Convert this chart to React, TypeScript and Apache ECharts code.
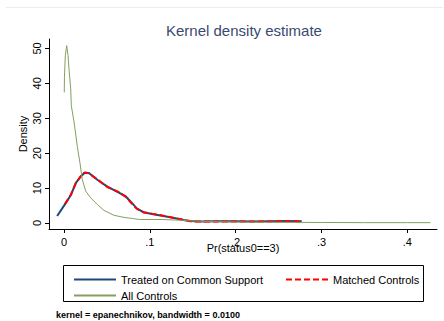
import React, { useEffect, useRef } from "react";
import * as echarts from "echarts";

const titleText = "Kernel density estimate";
const noteText = "kernel = epanechnikov, bandwidth = 0.0100";
const xName = "Pr(status0==3)";
const yName = "Density";
const seriesNames = ["Treated on Common Support", "Matched Controls", "All Controls"];

const xTicks = [0, 0.1, 0.2, 0.3, 0.4];
const xTickLabels = ["0", ".1", ".2", ".3", ".4"];
const yTicks = [0, 10, 20, 30, 40, 50];
const yTickLabels = ["0", "10", "20", "30", "40", "50"];

const treatedX = [-0.008, 0.002, 0.008, 0.0136, 0.0194, 0.0241, 0.029, 0.0388, 0.0505, 0.064, 0.072, 0.0796, 0.0847, 0.0924, 0.104, 0.1157, 0.127, 0.139, 0.147, 0.16, 0.18, 0.2, 0.22, 0.24, 0.26, 0.277];
const treatedY = [2.0, 5.7, 8.0, 11.4, 13.3, 14.4, 14.3, 12.4, 10.4, 8.7, 7.6, 5.6, 4.2, 3.1, 2.5, 2.0, 1.5, 0.86, 0.55, 0.45, 0.5, 0.5, 0.45, 0.5, 0.55, 0.5];

const matchedX = [0.001, 0.008, 0.0136, 0.0194, 0.0241, 0.029, 0.0388, 0.0505, 0.064, 0.072, 0.0796, 0.0847, 0.0924, 0.104, 0.1157, 0.127, 0.139, 0.147, 0.16, 0.18, 0.2, 0.22, 0.24, 0.26, 0.277];
const matchedY = [5.4, 8.1, 11.3, 13.4, 14.5, 14.2, 12.5, 10.3, 8.8, 7.5, 5.4, 4.1, 3.1, 2.6, 2.1, 1.5, 0.9, 0.5, 0.4, 0.45, 0.45, 0.4, 0.45, 0.5, 0.45];

const controlsX = [0.0003, 0.0005, 0.0015, 0.0031, 0.0047, 0.0058, 0.0078, 0.0085, 0.0117, 0.0136, 0.0155, 0.0186, 0.0213, 0.0253, 0.0311, 0.0388, 0.0466, 0.0583, 0.07, 0.0796, 0.088, 0.115, 0.135, 0.147, 0.17, 0.2, 0.25, 0.3, 0.35, 0.4, 0.427];
const controlsY = [37.4, 41.7, 47.9, 50.8, 48.0, 44.1, 38.4, 33.6, 28.9, 25.5, 21.9, 17.2, 12.4, 9.1, 7.2, 5.3, 3.6, 2.2, 1.6, 1.3, 1.0, 1.0, 0.8, 0.6, 0.4, 0.3, 0.2, 0.15, 0.1, 0.1, 0.1];

const FONT = "'Liberation Sans', Arial, sans-serif";

function pairs(xs: number[], ys: number[]) {
  return xs.map((x, i) => [x, ys[i]]);
}

export default function App() {
  const ref = useRef<HTMLDivElement>(null);
  useEffect(() => {
    if (!ref.current) return;
    const chart = echarts.init(ref.current, undefined, { renderer: "svg" });
    const xLabelMap: Record<string, string> = {};
    xTicks.forEach((v, i) => (xLabelMap[String(v)] = xTickLabels[i]));
    const yLabelMap: Record<string, string> = {};
    yTicks.forEach((v, i) => (yLabelMap[String(v)] = yTickLabels[i]));

    const legendCommon = {
      itemWidth: 42,
      itemHeight: 10,
      itemStyle: { opacity: 0, borderWidth: 0 },
      textStyle: { fontFamily: FONT, fontSize: 11, color: "#000" },
    };

    chart.setOption({
      animation: false,
      backgroundColor: "#ffffff",
      textStyle: { fontFamily: FONT },
      title: [
        {
          text: titleText,
          left: 161,
          top: 18,
          textStyle: { fontFamily: FONT, fontSize: 15, fontWeight: "normal", color: "#3a4a72" },
        },
        {
          text: noteText,
          left: 51,
          top: 305,
          textStyle: { fontFamily: FONT, fontSize: 9, fontWeight: "bold", color: "#000" },
        },
      ],
      grid: { left: 49, top: 39, width: 388, height: 190, outerBoundsMode: "none" },
      xAxis: {
        type: "value",
        min: -0.0175,
        max: 0.4346,
        name: xName,
        nameLocation: "middle",
        nameGap: 13,
        nameMoveOverlap: false,
        nameTextStyle: { fontFamily: FONT, fontSize: 11, color: "#000" },
        axisLine: { show: true, onZero: false, lineStyle: { color: "#000", width: 1 } },
        axisTick: { show: true, length: 4, customValues: xTicks, lineStyle: { color: "#000" } },
        axisLabel: {
          customValues: xTicks,
          margin: 7,
          fontFamily: FONT,
          fontSize: 11,
          color: "#000",
          formatter: (v: number) => xLabelMap[String(v)] ?? "",
        },
        splitLine: { show: false },
      },
      yAxis: {
        type: "value",
        min: -1.72,
        max: 52.7,
        name: yName,
        nameLocation: "middle",
        nameGap: 21,
        nameMoveOverlap: false,
        nameRotate: 90,
        nameTextStyle: { fontFamily: FONT, fontSize: 11, color: "#000" },
        axisLine: { show: true, onZero: false, lineStyle: { color: "#000", width: 1 } },
        axisTick: { show: true, length: 4, customValues: yTicks, lineStyle: { color: "#000" } },
        axisLabel: {
          customValues: yTicks,
          rotate: 90,
          margin: 7,
          fontFamily: FONT,
          fontSize: 11,
          color: "#000",
          formatter: (v: number) => yLabelMap[String(v)] ?? "",
        },
        splitLine: { show: false },
      },
      legend: [
        { ...legendCommon, data: [seriesNames[0]], left: 68, top: 269 },
        { ...legendCommon, data: [seriesNames[1]], left: 280, top: 269 },
        { ...legendCommon, data: [seriesNames[2]], left: 68, top: 285 },
      ],
      graphic: [
        {
          type: "line",
          shape: { x1: 6, y1: 7.5, x2: 443, y2: 7.5 },
          style: { stroke: "#ececec", lineWidth: 1 },
          silent: true,
        },
        {
          type: "rect",
          shape: { x: 63.5, y: 265.5, width: 360, height: 36 },
          style: { fill: "none", stroke: "#000", lineWidth: 1 },
          silent: true,
        },
      ],
      series: [
        {
          name: seriesNames[0],
          type: "line",
          data: pairs(treatedX, treatedY),
          showSymbol: false,
          symbol: "none",
          lineStyle: { color: "#1c4a78", width: 2 },
          itemStyle: { color: "#1c4a78" },
          z: 2,
        },
        {
          name: seriesNames[1],
          type: "line",
          data: pairs(matchedX, matchedY),
          showSymbol: false,
          symbol: "none",
          lineStyle: { color: "#ff0000", width: 2, type: [6, 3] },
          itemStyle: { color: "#ff0000" },
          z: 3,
        },
        {
          name: seriesNames[2],
          type: "line",
          data: pairs(controlsX, controlsY),
          showSymbol: false,
          symbol: "none",
          lineStyle: { color: "#84a060", width: 1 },
          itemStyle: { color: "#84a060" },
          z: 4,
        },
      ],
    });
    return () => chart.dispose();
  }, []);
  return (
    <div
      ref={ref}
      style={{ position: "fixed", left: 0, top: 0, width: 444, height: 321, background: "#fff" }}
    />
  );
}
